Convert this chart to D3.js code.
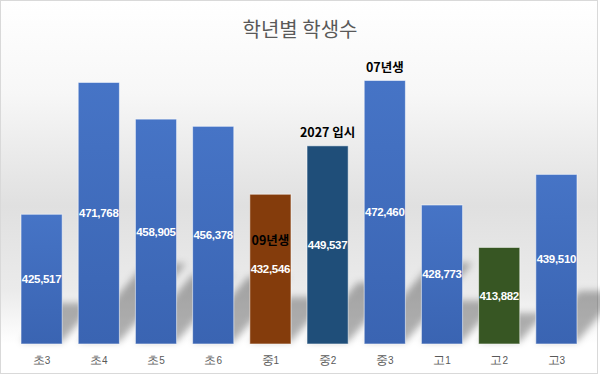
<!DOCTYPE html>
<html>
<head>
<meta charset="utf-8">
<script src="https://cdn.jsdelivr.net/npm/d3@7/dist/d3.min.js"></script>
<style>
  html, body { margin: 0; padding: 0; background: #fff; }
  svg { display: block; font-family: "Noto Sans CJK KR", "Noto Sans", sans-serif; }
</style>
</head>
<body>
<div id="chart"></div>
<script>
// data
const grades = ["초3", "초4", "초5", "초6", "중1", "중2", "중3", "고1", "고2", "고3"]
const students = [425517, 471768, 458905, 456378, 432546, 449537, 472460, 428773, 413882, 439510]
const barColors = ["blue", "blue", "blue", "blue", "brown", "navy", "blue", "blue", "green", "blue"]
const notes = [
  { grade: "중1", text: "09년생", inside: true },
  { grade: "중2", text: "2027 입시", inside: false },
  { grade: "중3", text: "07년생", inside: false },
]
const yDomain = [380000, 480000]

const w = 600
const h = 374
const margin = { top: 59, right: 15, bottom: 30, left: 13 }

const fills = {
  blue: "url(#gBlue)",
  brown: "#843c0c",
  navy: "#1f4e79",
  green: "#375623",
}

const svg = d3.select("#chart").append("svg")
  .attr("width", w)
  .attr("height", h)

const defs = svg.append("defs")

const bg = defs.append("linearGradient").attr("id", "gBg")
  .attr("x1", 0).attr("y1", 0).attr("x2", 0).attr("y2", 1)
bg.append("stop").attr("offset", "0%").attr("stop-color", "#ffffff")
bg.append("stop").attr("offset", "25%").attr("stop-color", "#f7f7f7")
bg.append("stop").attr("offset", "55%").attr("stop-color", "#e0e0e0")
bg.append("stop").attr("offset", "78%").attr("stop-color", "#ebebeb")
bg.append("stop").attr("offset", "92%").attr("stop-color", "#ffffff")
bg.append("stop").attr("offset", "100%").attr("stop-color", "#ffffff")

const gb = defs.append("linearGradient").attr("id", "gBlue")
  .attr("x1", 0).attr("y1", 0).attr("x2", 0).attr("y2", 1)
gb.append("stop").attr("offset", "0%").attr("stop-color", "#4674c6")
gb.append("stop").attr("offset", "100%").attr("stop-color", "#3a64b2")

defs.append("filter").attr("id", "blur")
  .attr("x", "-50%").attr("y", "-50%").attr("width", "200%").attr("height", "200%")
  .append("feGaussianBlur").attr("stdDeviation", 3.5)

// background + frame
svg.append("rect")
  .attr("x", 0.5).attr("y", 0.5)
  .attr("width", w - 3).attr("height", h - 1)
  .attr("fill", "url(#gBg)")
  .attr("stroke", "#d9d9d9")

const x = d3.scaleBand()
  .domain(grades)
  .range([margin.left, w - margin.right])
  .paddingInner(0.28)
  .paddingOuter(0.14)

const y = d3.scaleLinear()
  .domain(yDomain)
  .range([h - margin.bottom, margin.top])

const rows = grades.map((g, i) => ({ grade: g, value: students[i], color: barColors[i] }))
const base = y(yDomain[0])

// floor shadows going back to the upper right
svg.append("g").attr("filter", "url(#blur)")
  .selectAll("path")
  .data(rows)
  .enter()
  .append("path")
  .attr("d", d => {
    const x0 = x(d.grade), x1 = x0 + x.bandwidth()
    const sh = (base - y(d.value)) * 0.3
    const dx = sh * 0.85
    return `M${x0},${base - 2}L${x1},${base - 2}L${x1 + dx},${base - 2 - sh}L${x0 + dx},${base - 2 - sh}Z`
  })
  .attr("fill", "#000")
  .attr("opacity", 0.3)

svg.append("g")
  .selectAll("rect")
  .data(rows)
  .enter()
  .append("rect")
  .attr("x", d => x(d.grade))
  .attr("y", d => y(d.value))
  .attr("width", x.bandwidth())
  .attr("height", d => base - y(d.value))
  .attr("fill", d => fills[d.color])
  .attr("stroke", "rgba(255,255,255,0.55)")
  .attr("stroke-width", 1)

// value labels
svg.append("g")
  .selectAll("text")
  .data(rows)
  .enter()
  .append("text")
  .attr("x", d => x(d.grade) + x.bandwidth() / 2)
  .attr("y", d => (y(d.value) + base) / 2)
  .attr("text-anchor", "middle")
  .attr("dominant-baseline", "central")
  .attr("fill", "#fff")
  .style("font-family", "'Liberation Sans', Arial, sans-serif")
  .style("font-size", "11.5px")
  .style("font-weight", "bold")
  .style("letter-spacing", "-0.3px")
  .text(d => d3.format(",")(d.value))

// annotations
svg.append("g")
  .selectAll("text")
  .data(notes)
  .enter()
  .append("text")
  .attr("x", d => x(d.grade) + x.bandwidth() / 2)
  .attr("y", d => {
    const v = students[grades.indexOf(d.grade)]
    return d.inside ? (y(v) + base) / 2 - 30 : y(v) - 14
  })
  .attr("text-anchor", "middle")
  .attr("dominant-baseline", "central")
  .attr("fill", "#000")
  .style("font-size", "12.5px")
  .style("font-weight", "bold")
  .text(d => d.text)

// category axis
const xAxis = svg.append("g")
  .attr("transform", `translate(0,${base})`)
  .call(d3.axisBottom(x).tickSize(0).tickFormat(""))
xAxis.select(".domain").remove()
xAxis.selectAll(".tick").append("text")
  .attr("y", 20)
  .attr("text-anchor", "middle")
  .attr("fill", "#595959")
  .style("font-size", "12px")
  .each(function (d) {
    const t = d3.select(this)
    t.append("tspan").text(d.slice(0, 1))
    t.append("tspan").style("font-size", "10px").text(d.slice(1))
  })

svg.append("text")
  .attr("x", w / 2)
  .attr("y", 37)
  .attr("text-anchor", "middle")
  .attr("fill", "#595959")
  .style("font-size", "20px")
  .text("학년별 학생수")
</script>
</body>
</html>
